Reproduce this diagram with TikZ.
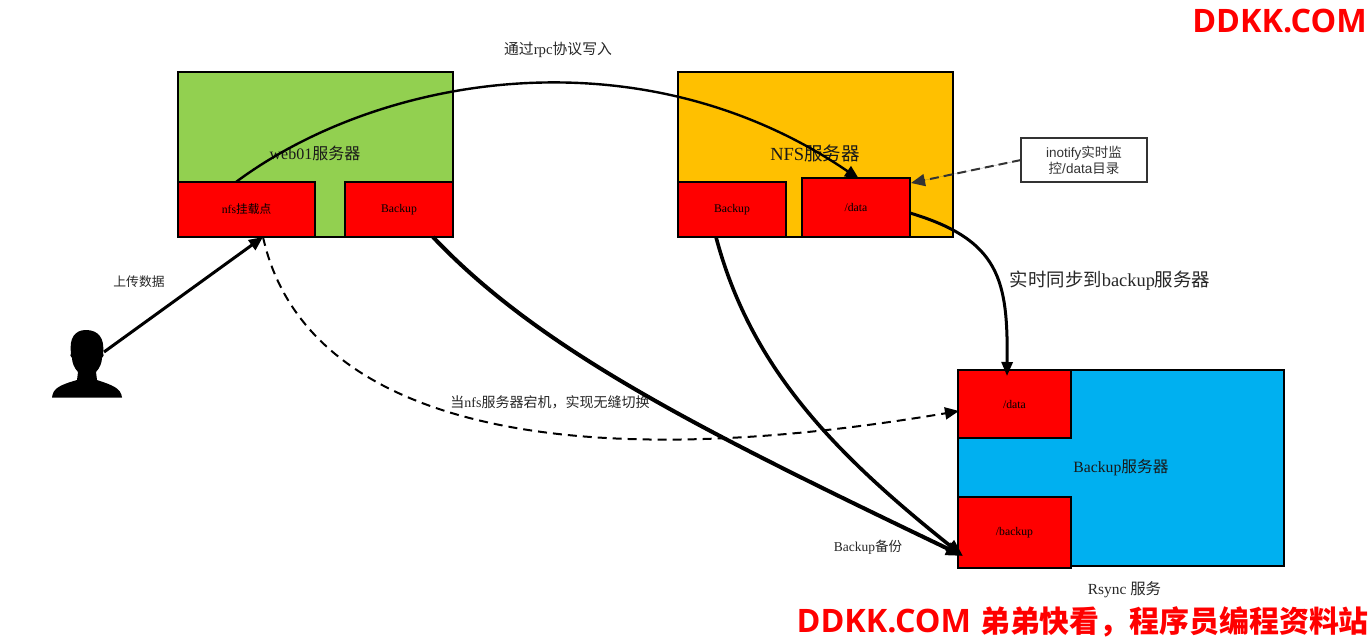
\documentclass[tikz,border=0pt]{standalone}
\usepackage{fontspec}
\setmainfont{Liberation Serif}
\setsansfont{Liberation Sans}
\newfontfamily\cjkfont{Noto Sans CJK SC}
\newfontfamily\wmlat{Open Sans}
\newcommand{\C}[1]{{\cjkfont #1}}
\newcommand{\fs}[1]{\fontsize{#1}{#1}\selectfont}
\usetikzlibrary{arrows.meta}
\definecolor{webgreen}{HTML}{92D050}
\definecolor{nfsorange}{HTML}{FFC000}
\definecolor{bakblue}{HTML}{00B0F0}
\tikzset{
 box/.style={draw=black,line width=2.2pt,anchor=north west,inner sep=0pt,outer sep=0pt,align=center},
 redbox/.style={box,fill=red,font=\fs{11.7}},
 lbl/.style={inner sep=0pt,text=black!85,align=center},
 big/.style={inner sep=0pt,text=black!90,align=center},
 wm/.style={inner sep=0pt,text=red},
 thickarrow/.style={draw=black,line width=4pt,-{Triangle[length=17pt,width=13pt]}},
 midarrow/.style={draw=black,line width=3pt,-{Triangle[length=14pt,width=11pt]}},
 thinarrow/.style={draw=black,line width=2.4pt,-{Triangle[length=14pt,width=12pt]}},
 dasharrow/.style={draw=black,line width=2pt,-{Triangle[length=14pt,width=12pt]},dash pattern=on 9pt off 6pt},
}
\begin{document}
\begin{tikzpicture}[x=1pt,y=-1pt]
\useasboundingbox (0,0) rectangle (1371,637);
% servers
\node[box,fill=webgreen,minimum width=275pt,minimum height=165pt] (web) at (178,72) {};
\node[box,fill=nfsorange,minimum width=275pt,minimum height=165pt] (nfs) at (678,72) {};
\node[box,fill=bakblue,minimum width=326pt,minimum height=196pt] (bak) at (958,370) {};
% inner boxes
\node[redbox,minimum width=137pt,minimum height=55pt] (mount) at (178,182) {nfs\C{挂载点}};
\node[redbox,minimum width=108pt,minimum height=55pt] (webbak) at (345,182) {Backup};
\node[redbox,minimum width=108pt,minimum height=55pt] (nfsbak) at (678,182) {Backup};
\node[redbox,minimum width=108pt,minimum height=59pt] (nfsdata) at (802,178) {/data};
\node[redbox,minimum width=113pt,minimum height=68pt] (bakdata) at (958,370) {/data};
\node[redbox,minimum width=113pt,minimum height=71pt] (bakbak) at (958,497) {/backup};
\node[box,fill=white,draw=black!80,line width=1.5pt,minimum width=126pt,minimum height=44pt,font=\sffamily\fs{13.5},text=black!80] (ino) at (1021,138) {inotify\C{实时监}\\[1pt]\C{控}/data\C{目录}};
% titles
\node[big,font=\fs{16}] (webt) at (315,153.5) {web01\C{服务器}};
\node[big,font=\fs{18.5}] (nfst) at (815,153.5) {NFS\C{服务器}};
\node[big,font=\fs{15.7}] (bakt) at (1121,468) {Backup\C{服务器}};
% labels
\node[lbl,font=\fs{14.8}] (l1) at (558,50) {\C{通过}rpc\C{协议写入}};
\node[lbl,font=\fs{12.8}] (l2) at (139,281.5) {\C{上传数据}};
\node[lbl,font=\fs{14}] (l3) at (550,402.5) {\C{当}nfs\C{服务器宕机，实现无缝切换}};
\node[lbl,font=\fs{18.4}] (l4) at (1110,281) {\C{实时同步到}backup\C{服务器}};
\node[lbl,font=\fs{13.5}] (l5) at (868,547.5) {Backup\C{备份}};
\node[lbl,font=\fs{15.4}] (l6) at (1124.5,590) {Rsync \C{服务}};
% watermarks
\node[wm,font=\wmlat\bfseries\fs{32.3}] (wm1) at (1279.5,21.5) {DDKK.COM};
\node[wm,font=\wmlat\bfseries,anchor=east] (wm2) at (1369,622) {{\fs{32.3}DDKK.COM}\hspace{9pt}{\fs{29.9}\C{弟弟快看，程序员编程资料站}}};
% person
\coordinate (person) at (104,352);
\fill[black] (52,397.5) .. controls (53,388) and (60,385) .. (77,380)
  -- (78,372) .. controls (74,368) and (72,362) .. (72,358)
  .. controls (70,357) and (70,354) .. (71,353)
  .. controls (69,338) and (75,330) .. (86,330)
  .. controls (98,330) and (105,338) .. (103,353)
  .. controls (104,354) and (104,357) .. (102,358)
  .. controls (102,362) and (100,368) .. (96,372)
  -- (97,380) .. controls (112,385) and (121,388) .. (122,397.5) -- cycle;
% connector ends
\coordinate (a1) at (236,182);
\coordinate (a2) at (859,179);
\coordinate (b1) at (263,237);
\coordinate (b2) at (959,411);
\coordinate (c1) at (433,237);
\coordinate (c2) at (963,556);
\coordinate (d1) at (716,237);
\coordinate (e1) at (910,213);
\coordinate (e2) at (1007,376);
\coordinate (f1) at (1021,160);
\coordinate (f2) at (911,183);
% connectors
\draw[thinarrow,line width=3pt] (person) -- (b1);
\draw[thinarrow] (a1) .. controls (380,75) and (640,30) .. (a2);
\draw[dasharrow] (b1) .. controls (300,405) and (520,485) .. (b2);
\draw[thickarrow] (c1) .. controls (540,350) and (700,430) .. (c2);
\draw[thickarrow,line width=3.6pt] (d1) .. controls (750,365) and (830,450) .. (c2);
\draw[midarrow] (e1) .. controls (1000,240) and (1008,280) .. (e2);
\draw[thinarrow,line width=2pt,draw=black!80,fill=black!80,dash pattern=on 9pt off 5pt] (f1) -- (f2);
\end{tikzpicture}
\end{document}
